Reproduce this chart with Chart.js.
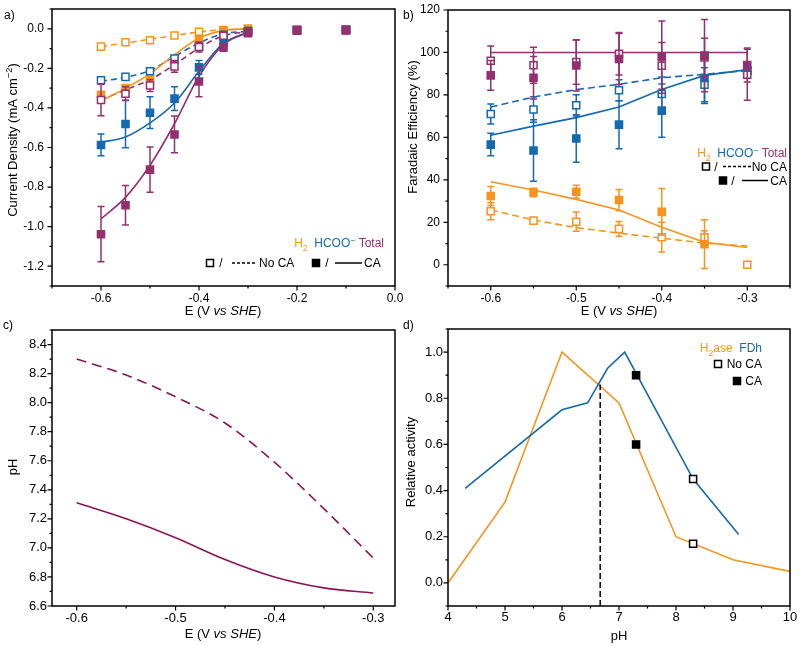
<!DOCTYPE html>
<html><head><meta charset="utf-8">
<script src="https://cdn.jsdelivr.net/npm/chart.js@4/dist/chart.umd.min.js"></script>
<style>
html,body{margin:0;padding:0;background:#fff;}
#wrap{position:relative;width:800px;height:646px;overflow:hidden;}
#wrap canvas{position:absolute;left:0;top:0;}
</style></head><body>
<div id="wrap">
<canvas id="ca" width="800" height="646"></canvas>
<canvas id="cb" width="800" height="646"></canvas>
<canvas id="cc" width="800" height="646"></canvas>
<canvas id="cd" width="800" height="646"></canvas>
</div>
<script>
const FONT = "'Liberation Sans', Arial, Helvetica, sans-serif";
const ORANGE = '#F7941D', BLUE = '#1469B0', PURPLE = '#94306F', MAROON = '#8A1453';

// ---------- Panel a: current density ----------
const aPot = [-0.6,-0.55,-0.5,-0.45,-0.4,-0.35,-0.3,-0.2,-0.1];
const aH2NoCA = [-0.09,-0.068,-0.058,-0.034,-0.015,-0.006,0,-0.002,-0.002];
const aHcooNoCA = [-0.26,-0.243,-0.215,-0.15,-0.09,-0.03,-0.012,-0.006,-0.005];
const aTotalNoCA = [-0.36,-0.328,-0.287,-0.19,-0.092,-0.035,-0.015,-0.008,-0.007];
const aTotalNoCAErr = [0.08,0.035,0.03,0.03,0.025,0.01,0,0,0];
const aH2CA = [-0.333,-0.30,-0.257,-0.156,-0.052,-0.008,0,-0.002,-0.002];
const aHcooCA = [-0.587,-0.481,-0.424,-0.353,-0.195,-0.072,-0.017,-0.008,-0.005];
const aHcooCAErr = [0.055,0.12,0.08,0.06,0.035,0.01,0,0,0];
const aTotalCA = [-1.038,-0.892,-0.712,-0.534,-0.266,-0.094,-0.022,-0.01,-0.008];
const aTotalCAErr = [0.14,0.1,0.114,0.093,0.078,0.02,0.01,0,0];
const aFitPot = [-0.6,-0.55,-0.5,-0.45,-0.4,-0.35,-0.3];
const aFitH2NoCA = [-0.089,-0.072,-0.053,-0.034,-0.016,-0.005,0];
const aFitHcooNoCA = [-0.265,-0.245,-0.21,-0.14,-0.072,-0.025,-0.013];
const aFitTotalNoCA = [-0.36,-0.308,-0.257,-0.182,-0.097,-0.035,-0.015];
const aFitH2CA = [-0.365,-0.30,-0.228,-0.131,-0.048,-0.008,0];
const aFitHcooCA = [-0.574,-0.547,-0.476,-0.375,-0.215,-0.073,-0.017];
const aFitTotalCA = [-0.96,-0.852,-0.69,-0.48,-0.24,-0.08,-0.018];
const aXTicks = [-0.7,-0.6,-0.5,-0.4,-0.3,-0.2,-0.1,0];
const aXLabels = [-0.6,-0.4,-0.2,0];
const aYTicks = [0.1,0,-0.1,-0.2,-0.3,-0.4,-0.5,-0.6,-0.7,-0.8,-0.9,-1.0,-1.1,-1.2,-1.3];
const aYLabels = [0,-0.2,-0.4,-0.6,-0.8,-1.0,-1.2];

// ---------- Panel b: faradaic efficiency ----------
const bPot = [-0.6,-0.55,-0.5,-0.45,-0.4,-0.35,-0.3];
const bH2NoCA = [25.2,20.8,20.3,16.9,13.0,13.0,0];
const bH2NoCAErr = [4,1,4.5,3.5,7,3,0];
const bH2CA = [32.4,34.0,34.4,30.5,24.9,9.7,null];
const bH2CAErr = [4.5,2,3,5,11,11.5,0];
const bHcooNoCA = [71.0,73.1,75.1,82.2,80.4,84.8,91.5];
const bHcooNoCAErr = [4.7,6,5,5,8,8,2];
const bHcooCA = [56.6,53.8,59.5,66.0,72.6,88.0,91.5];
const bHcooCAErr = [5.3,14.5,11.2,11.3,12.5,12,2];
const bTotalNoCA = [96.1,94.0,95.5,99.4,93.7,97.7,89.5];
const bTotalNoCAErr = [7,8.5,10.5,10,11,9,12];
const bTotalCA = [89.2,88.1,93.9,96.9,97.8,98.5,94.1];
const bTotalCAErr = [7,10,12,12,17,17,8];
const bFitTotal = [100,100,100,100,100,100,100];
const bFitHcooNoCA = [74.3,79,82.5,85,88.1,89.7,91.5];
const bFitHcooCA = [61,65.3,69.3,74.3,82.5,89.2,91.9];
const bFitH2CA = [39.1,35.2,30.8,25.8,17.7,10.6,8.1];
const bFitH2NoCA = [25.8,21.1,17.5,14.9,12.5,10.2,8.9];
const bXTicks = [-0.65,-0.6,-0.55,-0.5,-0.45,-0.4,-0.35,-0.3,-0.25];
const bXLabels = [-0.6,-0.5,-0.4,-0.3];
const bYTicks = [120,110,100,90,80,70,60,50,40,30,20,10,0,-10];
const bYLabels = [0,20,40,60,80,100,120];

// ---------- Panel c: pH vs potential ----------
const cPot = [-0.6,-0.55,-0.5,-0.45,-0.4,-0.35,-0.3];
const cPhNoCA = [8.30,8.19,8.04,7.86,7.59,7.27,6.93];
const cPhCA = [7.31,7.20,7.07,6.92,6.80,6.725,6.69];
const cXTicks = [-0.6,-0.55,-0.5,-0.45,-0.4,-0.35,-0.3];
const cXLabels = [-0.6,-0.5,-0.4,-0.3];
const cYTicks = [8.5,8.4,8.3,8.2,8.1,8.0,7.9,7.8,7.7,7.6,7.5,7.4,7.3,7.2,7.1,7.0,6.9,6.8,6.7,6.6];
const cYLabels = [6.6,6.8,7.0,7.2,7.4,7.6,7.8,8.0,8.2,8.4];

// ---------- Panel d: relative activity vs pH ----------
const dH2asePH = [4,5,6,7,8,9,10];
const dH2aseAct = [0,0.35,1.0,0.78,0.2,0.1,0.05];
const dFDhPH = [4.3,6,6.45,6.8,7.1,8.3,9.1];
const dFDhAct = [0.41,0.75,0.78,0.93,1.0,0.45,0.21];
const dNoCAPH = [8.3,8.3];
const dNoCAAct = [0.45,0.17];
const dCAPH = [7.3,7.3];
const dCAAct = [0.9,0.6];
const dCrossPH = [6.67,6.67];
const dCrossAct = [-0.1,0.86];
const dXTicks = [4,4.5,5,5.5,6,6.5,7,7.5,8,8.5,9,9.5,10];
const dXLabels = [4,5,6,7,8,9,10];
const dYTicks = [1.1,1.0,0.9,0.8,0.7,0.6,0.5,0.4,0.3,0.2,0.1,0,-0.1];
const dYLabels = [0,0.2,0.4,0.6,0.8,1.0];

// ---------- helpers ----------
const xy = (xs, ys) => xs.map((x, i) => ({x: x, y: ys[i]}));
const isIn = (arr, v) => arr.some(l => Math.abs(l - v) < 1e-9);
const fmt = (v, d) => (Math.abs(v) < 1e-9 ? 0 : v).toFixed(d);

function rich(ctx, segs, x, y, size, align, rot) {
  ctx.save();
  ctx.translate(x, y);
  if (rot) ctx.rotate(rot);
  ctx.textBaseline = 'alphabetic';
  ctx.textAlign = 'left';
  const parts = segs.map(s => {
    const sz = (s.sub || s.sup) ? size * 0.72 : size;
    const f = (s.it ? 'italic ' : '') + sz + 'px ' + FONT;
    ctx.font = f;
    return {s: s, f: f, w: ctx.measureText(s.t).width};
  });
  const total = parts.reduce((a, p) => a + p.w, 0);
  let cx = align === 'center' ? -total / 2 : (align === 'right' ? -total : 0);
  parts.forEach(p => {
    ctx.font = p.f;
    ctx.fillStyle = p.s.c || '#000';
    const dy = p.s.sub ? size * 0.28 : (p.s.sup ? -size * 0.38 : 0);
    ctx.fillText(p.s.t, cx, dy + size * 0.36);
    cx += p.w;
  });
  ctx.restore();
}
function txt(ctx, t, x, y, size, align, color) { rich(ctx, [{t: t, c: color}], x, y, size, align, 0); }
function sq(ctx, cx, cy, filled, color) {
  ctx.save();
  ctx.lineWidth = 1.5; ctx.strokeStyle = color; ctx.fillStyle = filled ? color : '#fff';
  ctx.fillRect(cx - 3.5, cy - 3.5, 7, 7);
  ctx.strokeRect(cx - 3.5, cy - 3.5, 7, 7);
  ctx.restore();
}
function seg(ctx, x1, x2, y, dash) {
  ctx.save();
  ctx.lineWidth = 1.5; ctx.strokeStyle = '#000'; ctx.setLineDash(dash || []);
  ctx.beginPath(); ctx.moveTo(x1, y); ctx.lineTo(x2, y); ctx.stroke();
  ctx.restore();
}
const E_TITLE = [{t: 'E (V '}, {t: 'vs', it: true}, {t: ' '}, {t: 'SHE', it: true}, {t: ')'}];

function makeDecor(cfg) {
  return {
    id: 'decor',
    beforeDatasetDraw(chart, args) {
      const ds = chart.data.datasets[args.index];
      if (!ds.yErr) return;
      const ctx = chart.ctx, ys = chart.scales.y, xs = chart.scales.x;
      ctx.save();
      ctx.strokeStyle = ds.errColor; ctx.lineWidth = 1.5;
      ds.data.forEach((p, j) => {
        const e = ds.yErr[j];
        if (p.y === null || p.y === undefined || !e) return;
        const px = xs.getPixelForValue(p.x);
        const t = ys.getPixelForValue(p.y + e), b = ys.getPixelForValue(p.y - e);
        ctx.beginPath();
        ctx.moveTo(px, t); ctx.lineTo(px, b);
        ctx.moveTo(px - 3.5, t); ctx.lineTo(px + 3.5, t);
        ctx.moveTo(px - 3.5, b); ctx.lineTo(px + 3.5, b);
        ctx.stroke();
      });
      ctx.restore();
    },
    afterDraw(chart) {
      const ctx = chart.ctx, a = chart.chartArea, xs = chart.scales.x, ys = chart.scales.y;
      ctx.save();
      ctx.strokeStyle = '#000'; ctx.lineWidth = 1.5;
      ctx.strokeRect(a.left, a.top, a.right - a.left, a.bottom - a.top);
      ctx.lineWidth = 1.2;
      ctx.beginPath();
      cfg.xTicks.forEach(v => {
        const px = xs.getPixelForValue(v), len = isIn(cfg.xLabels, v) ? 4.5 : 2.5;
        ctx.moveTo(px, a.bottom); ctx.lineTo(px, a.bottom + len);
      });
      cfg.yTicks.forEach(v => {
        const py = ys.getPixelForValue(v), len = isIn(cfg.yLabels, v) ? 4.5 : 2.5;
        ctx.moveTo(a.left, py); ctx.lineTo(a.left - len, py);
      });
      ctx.stroke();
      ctx.restore();
      cfg.draw(ctx);
    }
  };
}

function axis(min, max, ticks, labels, dec, size, tl, pad, isX) {
  return {
    type: 'linear', min: min, max: max,
    afterBuildTicks: s => { s.ticks = ticks.map(v => ({value: v})); },
    afterFit: s => {
      if (isX) s.height = 20; else s.width = 40;
      s.paddingLeft = 0; s.paddingRight = 0; s.paddingTop = 0; s.paddingBottom = 0;
    },
    ticks: {
      autoSkip: false, maxRotation: 0, minRotation: 0, padding: pad, color: '#000',
      font: {family: FONT, size: size},
      callback: v => isIn(labels, v) ? fmt(v, dec) : ''
    },
    grid: {display: true, drawOnChartArea: false, drawTicks: true, tickLength: tl, tickColor: 'rgba(0,0,0,0)'},
    border: {display: false}
  };
}

function marker(data, color, filled, errs, order) {
  return {
    data: data, showLine: false, pointStyle: 'rect', pointRadius: 5, pointHoverRadius: 5,
    pointBorderWidth: 1.5, pointBorderColor: color, pointBackgroundColor: filled ? color : '#fff',
    borderColor: color, yErr: errs || null, errColor: color, order: order
  };
}
function fitLine(data, color, dash, smooth, order) {
  return {
    data: data, showLine: true, pointRadius: 0, borderColor: color, borderWidth: 1.6,
    borderDash: dash || [], tension: smooth ? 0.4 : 0,
    cubicInterpolationMode: smooth ? 'monotone' : 'default', order: order, fill: false
  };
}

function makeChart(id, pad, xAx, yAx, datasets, cfg) {
  return new Chart(document.getElementById(id), {
    type: 'scatter',
    data: {datasets: datasets},
    options: {
      responsive: false, animation: false, devicePixelRatio: 1,
      layout: {padding: pad},
      plugins: {legend: {display: false}, tooltip: {enabled: false}},
      events: [],
      scales: {x: xAx, y: yAx}
    },
    plugins: [makeDecor(cfg)]
  });
}

// ---------- Panel a ----------
makeChart('ca', {left: 12, top: 9, right: 405, bottom: 340},
  axis(-0.7, 0, aXTicks, aXLabels, 1, 12, 5, 0, true),
  axis(-1.3, 0.1, aYTicks, aYLabels, 1, 12, 5, 3, false),
  [
    marker(xy(aPot, aTotalCA), PURPLE, true, aTotalCAErr, 1),
    marker(xy(aPot, aTotalNoCA), PURPLE, false, aTotalNoCAErr, 2),
    marker(xy(aPot, aHcooCA), BLUE, true, aHcooCAErr, 3),
    marker(xy(aPot, aHcooNoCA), BLUE, false, null, 4),
    marker(xy(aPot, aH2CA), ORANGE, true, null, 5),
    marker(xy(aPot, aH2NoCA), ORANGE, false, null, 6),
    fitLine(xy(aFitPot, aFitTotalCA), PURPLE, null, true, 7),
    fitLine(xy(aFitPot, aFitHcooCA), BLUE, null, true, 8),
    fitLine(xy(aFitPot, aFitH2CA), ORANGE, null, true, 9),
    fitLine(xy(aFitPot, aFitTotalNoCA), PURPLE, [6, 4], true, 10),
    fitLine(xy(aFitPot, aFitHcooNoCA), BLUE, [6, 4], true, 11),
    fitLine(xy(aFitPot, aFitH2NoCA), ORANGE, [6, 4], true, 12)
  ],
  {xTicks: aXTicks, xLabels: aXLabels, yTicks: aYTicks, yLabels: aYLabels, draw(ctx) {
    txt(ctx, 'a)', 4, 15, 12, 'left');
    rich(ctx, E_TITLE, 223, 310, 13, 'center', 0);
    rich(ctx, [{t: 'Current Density (mA cm'}, {t: '\u22122', sup: true}, {t: ')'}], 12, 140, 13, 'center', -Math.PI / 2);
    rich(ctx, [{t: 'H', c: ORANGE}, {t: '2', sub: true, c: ORANGE}, {t: '  HCOO', c: BLUE}, {t: '\u2212', sup: true, c: BLUE}, {t: ' Total', c: PURPLE}], 384, 243, 12, 'right');
    sq(ctx, 210, 263, false, '#000');
    txt(ctx, '/', 221, 263, 12, 'center');
    seg(ctx, 232, 257, 263, [3, 2]);
    txt(ctx, 'No CA', 259, 263, 12, 'left');
    sq(ctx, 316, 263, true, '#000');
    txt(ctx, '/', 327, 263, 12, 'center');
    seg(ctx, 335, 362, 263);
    txt(ctx, 'CA', 364, 263, 12, 'left');
  }});

// ---------- Panel b ----------
makeChart('cb', {left: 408, top: 10, right: 10, bottom: 340},
  axis(-0.65, -0.25, bXTicks, bXLabels, 1, 12, 5, 0, true),
  axis(-10, 120, bYTicks, bYLabels, 0, 12, 5, 3, false),
  [
    marker(xy(bPot, bTotalCA), PURPLE, true, bTotalCAErr, 1),
    marker(xy(bPot, bTotalNoCA), PURPLE, false, bTotalNoCAErr, 2),
    marker(xy(bPot, bHcooCA), BLUE, true, bHcooCAErr, 3),
    marker(xy(bPot, bHcooNoCA), BLUE, false, bHcooNoCAErr, 4),
    marker(xy(bPot, bH2CA), ORANGE, true, bH2CAErr, 5),
    marker(xy(bPot, bH2NoCA), ORANGE, false, bH2NoCAErr, 6),
    fitLine(xy(bPot, bFitTotal), PURPLE, null, false, 7),
    fitLine(xy(bPot, bFitHcooCA), BLUE, null, false, 8),
    fitLine(xy(bPot, bFitH2CA), ORANGE, null, false, 9),
    fitLine(xy(bPot, bFitHcooNoCA), BLUE, [7, 4], false, 10),
    fitLine(xy(bPot, bFitH2NoCA), ORANGE, [7, 4], false, 11)
  ],
  {xTicks: bXTicks, xLabels: bXLabels, yTicks: bYTicks, yLabels: bYLabels, draw(ctx) {
    txt(ctx, 'b)', 403, 15, 12, 'left');
    rich(ctx, E_TITLE, 619, 310, 13, 'center', 0);
    rich(ctx, [{t: 'Faradaic Efficiency (%)'}], 412, 127, 13, 'center', -Math.PI / 2);
    rich(ctx, [{t: 'H', c: ORANGE}, {t: '2', sub: true, c: ORANGE}, {t: '  HCOO', c: BLUE}, {t: '\u2212', sup: true, c: BLUE}, {t: ' Total', c: PURPLE}], 787, 153, 12, 'right');
    sq(ctx, 706, 166.5, false, '#000');
    txt(ctx, '/', 716, 166.5, 12, 'center');
    seg(ctx, 723, 751, 166.5, [3, 2]);
    txt(ctx, 'No CA', 787, 166.5, 12, 'right');
    sq(ctx, 723, 180.5, true, '#000');
    txt(ctx, '/', 733, 180.5, 12, 'center');
    seg(ctx, 742, 768, 180.5);
    txt(ctx, 'CA', 787, 180.5, 12, 'right');
  }});

// ---------- Panel c ----------
makeChart('cc', {left: 12, top: 330, right: 405, bottom: 20},
  axis(-0.625, -0.278, cXTicks, cXLabels, 1, 13, 4, 1, true),
  axis(6.6, 8.5, cYTicks, cYLabels, 1, 13, 4, 1, false),
  [
    fitLine(xy(cPot, cPhCA), MAROON, null, true, 1),
    fitLine(xy(cPot, cPhNoCA), MAROON, [10, 6], true, 2)
  ],
  {xTicks: cXTicks, xLabels: cXLabels, yTicks: cYTicks, yLabels: cYLabels, draw(ctx) {
    txt(ctx, 'c)', 3, 325, 12, 'left');
    rich(ctx, E_TITLE, 223, 633, 13, 'center', 0);
    rich(ctx, [{t: 'pH'}], 12, 467, 13, 'center', -Math.PI / 2);
  }});

// ---------- Panel d ----------
makeChart('cd', {left: 408, top: 329, right: 10, bottom: 20},
  axis(4, 10, dXTicks, dXLabels, 0, 13, 4, 0, true),
  axis(-0.1, 1.1, dYTicks, dYLabels, 1, 13, 4, 1, false),
  [
    marker(xy(dCAPH, dCAAct), '#000', true, null, 1),
    marker(xy(dNoCAPH, dNoCAAct), '#000', false, null, 2),
    {data: xy(dCrossPH, dCrossAct), showLine: true, pointRadius: 0, borderColor: '#000', borderWidth: 1.5, borderDash: [6, 3], order: 3},
    fitLine(xy(dFDhPH, dFDhAct), BLUE, null, false, 4),
    fitLine(xy(dH2asePH, dH2aseAct), ORANGE, null, false, 5)
  ],
  {xTicks: dXTicks, xLabels: dXLabels, yTicks: dYTicks, yLabels: dYLabels, draw(ctx) {
    txt(ctx, 'd)', 403, 325, 12, 'left');
    rich(ctx, [{t: 'pH'}], 619, 635, 13, 'center', 0);
    rich(ctx, [{t: 'Relative activity'}], 410, 462, 13, 'center', -Math.PI / 2);
    rich(ctx, [{t: 'H', c: ORANGE}, {t: '2', sub: true, c: ORANGE}, {t: 'ase', c: ORANGE}, {t: '  FDh', c: BLUE}], 762, 348, 12, 'right');
    sq(ctx, 718, 364, false, '#000');
    txt(ctx, 'No CA', 762, 364, 12, 'right');
    sq(ctx, 737, 381, true, '#000');
    txt(ctx, 'CA', 762, 381, 12, 'right');
  }});
</script>
</body></html>
